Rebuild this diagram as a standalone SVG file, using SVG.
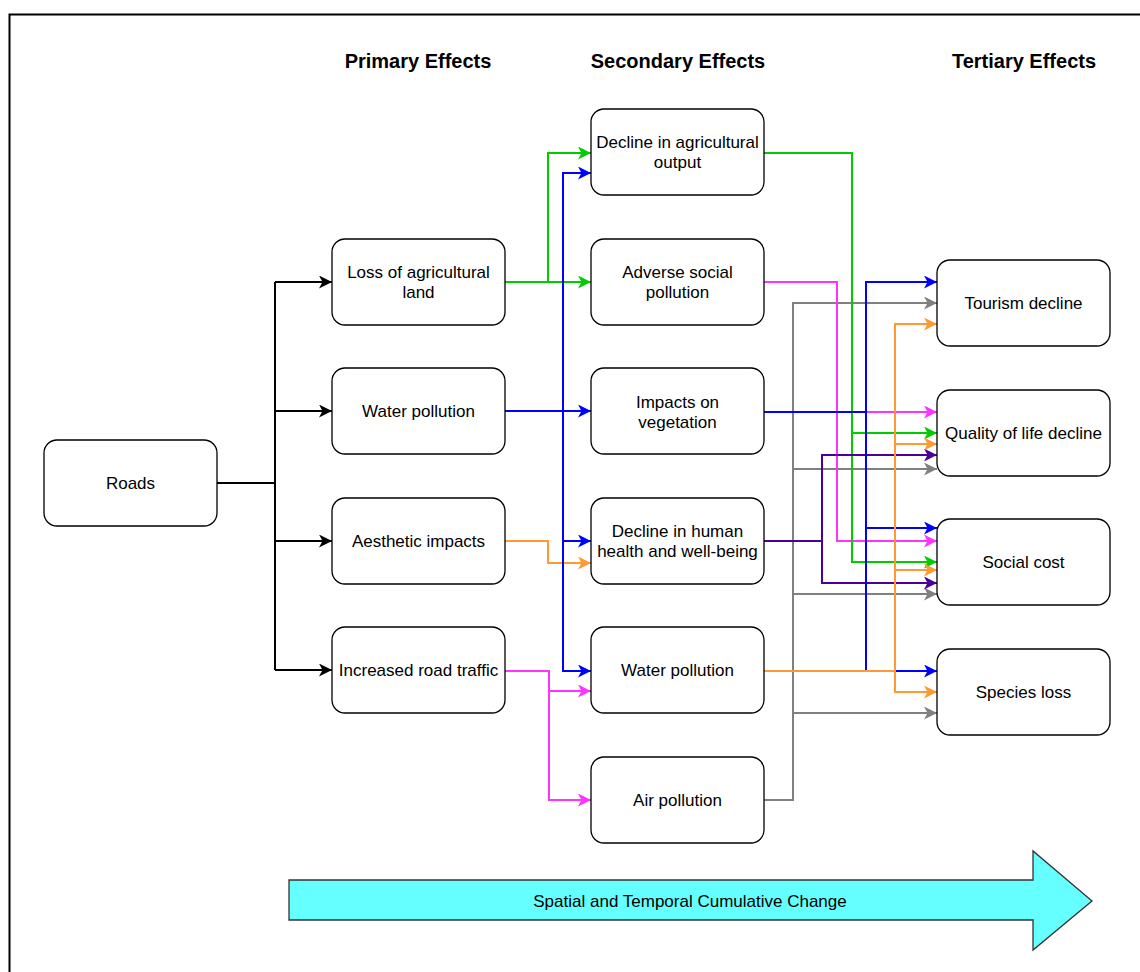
<svg xmlns="http://www.w3.org/2000/svg" width="1140" height="972" viewBox="0 0 1140 972">
  <style>
    .node rect { fill: #ffffff; stroke: #000000; stroke-width: 1.3; }
    .node text, .label { font-family: "Liberation Sans", Arial, sans-serif; font-size: 17px; fill: #000000; text-anchor: middle; }
    .head { font-family: "Liberation Sans", Arial, sans-serif; font-size: 20px; font-weight: bold; fill: #000000; text-anchor: middle; }
    .edge { fill: none; stroke-width: 2; }
    .k { stroke: #000000; }
    .g { stroke: #00CC00; }
    .b { stroke: #0000FF; }
    .o { stroke: #FF9933; }
    .p { stroke: #FF33FF; }
    .v { stroke: #4C0099; }
    .y { stroke: #808080; }
  </style>
  <defs>
    <marker id="ag" viewBox="0 0 13 13" refX="13" refY="6.5" markerWidth="13" markerHeight="13" orient="auto" markerUnits="userSpaceOnUse"><path d="M0,0 L13,6.5 L0,13 L3.5,6.5 Z" fill="#00CC00"/></marker>
    <marker id="ab" viewBox="0 0 13 13" refX="13" refY="6.5" markerWidth="13" markerHeight="13" orient="auto" markerUnits="userSpaceOnUse"><path d="M0,0 L13,6.5 L0,13 L3.5,6.5 Z" fill="#0000FF"/></marker>
    <marker id="ao" viewBox="0 0 13 13" refX="13" refY="6.5" markerWidth="13" markerHeight="13" orient="auto" markerUnits="userSpaceOnUse"><path d="M0,0 L13,6.5 L0,13 L3.5,6.5 Z" fill="#FF9933"/></marker>
    <marker id="ap" viewBox="0 0 13 13" refX="13" refY="6.5" markerWidth="13" markerHeight="13" orient="auto" markerUnits="userSpaceOnUse"><path d="M0,0 L13,6.5 L0,13 L3.5,6.5 Z" fill="#FF33FF"/></marker>
    <marker id="av" viewBox="0 0 13 13" refX="13" refY="6.5" markerWidth="13" markerHeight="13" orient="auto" markerUnits="userSpaceOnUse"><path d="M0,0 L13,6.5 L0,13 L3.5,6.5 Z" fill="#4C0099"/></marker>
    <marker id="ay" viewBox="0 0 13 13" refX="13" refY="6.5" markerWidth="13" markerHeight="13" orient="auto" markerUnits="userSpaceOnUse"><path d="M0,0 L13,6.5 L0,13 L3.5,6.5 Z" fill="#808080"/></marker>
    <marker id="ak" viewBox="0 0 13 13" refX="13" refY="6.5" markerWidth="13" markerHeight="13" orient="auto" markerUnits="userSpaceOnUse"><path d="M0,0 L13,6.5 L0,13 L3.5,6.5 Z" fill="#000000"/></marker>
  </defs>

  <rect width="1140" height="972" fill="#ffffff"/>
  <!-- page frame -->
  <rect x="9.5" y="14.5" width="1160" height="980" fill="none" stroke="#000000" stroke-width="2"/>

  <!-- column headings -->
  <text class="head" x="418" y="68">Primary Effects</text>
  <text class="head" x="678" y="68">Secondary Effects</text>
  <text class="head" x="1024" y="68">Tertiary Effects</text>

  <!-- connectors -->
  <g id="connectors">
    <!-- roads to primary effects -->
    <path class="edge k" d="M217,483 H275"/>
    <path class="edge k" d="M275,282 V670"/>
    <path class="edge k" d="M275,282 H332" marker-end="url(#ak)"/>
    <path class="edge k" d="M275,411 H332" marker-end="url(#ak)"/>
    <path class="edge k" d="M275,541 H332" marker-end="url(#ak)"/>
    <path class="edge k" d="M275,670 H332" marker-end="url(#ak)"/>

    <!-- primary to secondary -->
    <path class="edge g" d="M505,282 H591" marker-end="url(#ag)"/>
    <path class="edge g" d="M548,282 V153 H591" marker-end="url(#ag)"/>
    <path class="edge o" d="M505,541 H548 V563 H591" marker-end="url(#ao)"/>
    <path class="edge p" d="M505,671 H549 V691 H591" marker-end="url(#ap)"/>
    <path class="edge p" d="M549,691 V800 H591" marker-end="url(#ap)"/>
    <path class="edge b" d="M505,411 H591" marker-end="url(#ab)"/>
    <path class="edge b" d="M563,411 V173 H591" marker-end="url(#ab)"/>
    <path class="edge b" d="M563,411 V541 H591" marker-end="url(#ab)"/>
    <path class="edge b" d="M563,541 V671 H591" marker-end="url(#ab)"/>

    <!-- secondary to tertiary -->
    <!-- air pollution -->
    <path class="edge y" d="M764,800 H793 V303 H937" marker-end="url(#ay)"/>
    <path class="edge y" d="M793,469 H937" marker-end="url(#ay)"/>
    <path class="edge y" d="M793,594 H937" marker-end="url(#ay)"/>
    <path class="edge y" d="M793,713 H937" marker-end="url(#ay)"/>
    <!-- adverse social pollution -->
    <path class="edge p" d="M764,282 H837 V412 H937" marker-end="url(#ap)"/>
    <path class="edge p" d="M837,412 V541 H937" marker-end="url(#ap)"/>
    <!-- decline in agricultural output -->
    <path class="edge g" d="M764,153 H852 V433 H937" marker-end="url(#ag)"/>
    <path class="edge g" d="M852,433 V562 H937" marker-end="url(#ag)"/>
    <!-- decline in human health -->
    <path class="edge v" d="M764,541 H822 V455 H937" marker-end="url(#av)"/>
    <path class="edge v" d="M822,541 V583 H937" marker-end="url(#av)"/>
    <!-- impacts on vegetation -->
    <path class="edge b" d="M764,412 H866 V282 H937" marker-end="url(#ab)"/>
    <path class="edge b" d="M866,412 V528 H937" marker-end="url(#ab)"/>
    <path class="edge b" d="M866,528 V671 H937" marker-end="url(#ab)"/>
    <!-- water pollution (secondary) -->
    <path class="edge o" d="M764,671 H895 V324 H937" marker-end="url(#ao)"/>
    <path class="edge o" d="M895,444 H937" marker-end="url(#ao)"/>
    <path class="edge o" d="M895,570 H937" marker-end="url(#ao)"/>
    <path class="edge o" d="M895,671 V692 H937" marker-end="url(#ao)"/>
  </g>

  <!-- nodes -->
  <g id="roads" class="node"><rect x="44" y="440" width="173" height="86" rx="13"/><text x="130.5" y="489">Roads</text></g>

  <g id="p-land" class="node"><rect x="332" y="239" width="173" height="86" rx="13"/><text x="418.5" y="278">Loss of agricultural</text><text x="418.5" y="298">land</text></g>
  <g id="p-water" class="node"><rect x="332" y="368" width="173" height="86" rx="13"/><text x="418.5" y="417">Water pollution</text></g>
  <g id="p-aesthetic" class="node"><rect x="332" y="498" width="173" height="86" rx="13"/><text x="418.5" y="547">Aesthetic impacts</text></g>
  <g id="p-traffic" class="node"><rect x="332" y="627" width="173" height="86" rx="13"/><text x="418.5" y="676">Increased road traffic</text></g>

  <g id="s-agri" class="node"><rect x="591" y="109" width="173" height="86" rx="13"/><text x="677.5" y="148">Decline in agricultural</text><text x="677.5" y="168">output</text></g>
  <g id="s-social" class="node"><rect x="591" y="239" width="173" height="86" rx="13"/><text x="677.5" y="278">Adverse social</text><text x="677.5" y="298">pollution</text></g>
  <g id="s-veg" class="node"><rect x="591" y="368" width="173" height="86" rx="13"/><text x="677.5" y="408">Impacts on</text><text x="677.5" y="428">vegetation</text></g>
  <g id="s-health" class="node"><rect x="591" y="498" width="173" height="86" rx="13"/><text x="677.5" y="537">Decline in human</text><text x="677.5" y="557">health and well-being</text></g>
  <g id="s-water" class="node"><rect x="591" y="627" width="173" height="86" rx="13"/><text x="677.5" y="676">Water pollution</text></g>
  <g id="s-air" class="node"><rect x="591" y="757" width="173" height="86" rx="13"/><text x="677.5" y="806">Air pollution</text></g>

  <g id="t-tourism" class="node"><rect x="937" y="260" width="173" height="86" rx="13"/><text x="1023.5" y="309">Tourism decline</text></g>
  <g id="t-quality" class="node"><rect x="937" y="390" width="173" height="86" rx="13"/><text x="1023.5" y="439">Quality of life decline</text></g>
  <g id="t-social" class="node"><rect x="937" y="519" width="173" height="86" rx="13"/><text x="1023.5" y="568">Social cost</text></g>
  <g id="t-species" class="node"><rect x="937" y="649" width="173" height="86" rx="13"/><text x="1023.5" y="698">Species loss</text></g>

  <!-- cumulative change arrow -->
  <g id="change-arrow">
    <path d="M289,880 H1033 V851 L1092,901 L1033,950 V920 H289 Z" fill="#66FFFF" stroke="#333333" stroke-width="1.3"/>
    <text class="label" x="690" y="907">Spatial and Temporal Cumulative Change</text>
  </g>
</svg>
